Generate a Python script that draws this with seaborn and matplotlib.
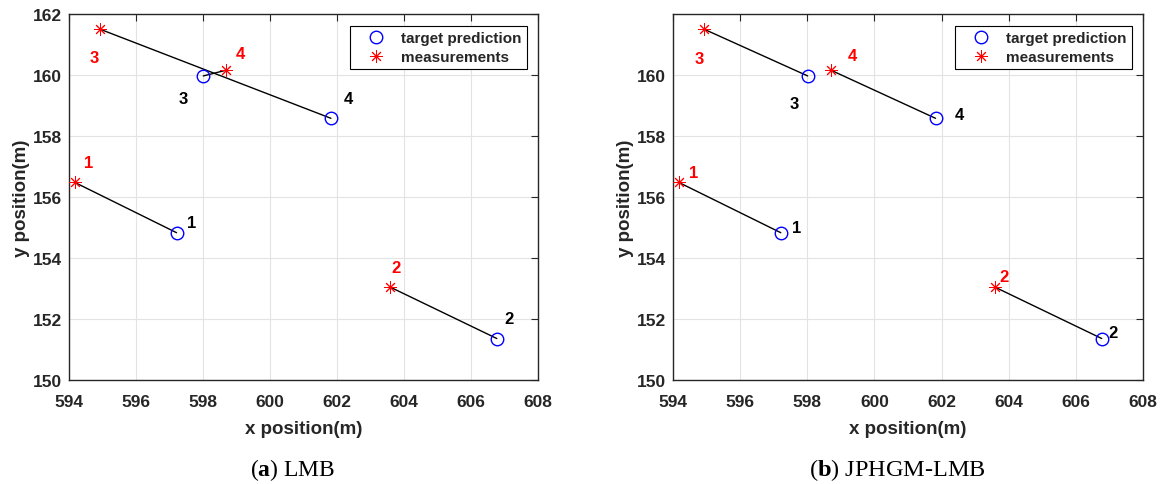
import matplotlib.pyplot as plt
import pandas as pd
import seaborn as sns

# target predictions (blue circles) and measurements (red stars), same in both panels
target_x = [597.21, 606.77, 598.01, 601.82]
target_y = [154.83, 151.36, 159.97, 158.58]
meas_x = [594.17, 603.58, 594.93, 598.70]
meas_y = [156.48, 153.05, 161.50, 160.16]
track_ids = ["1", "2", "3", "4"]

# which target each measurement got associated with
assoc_lmb = [0, 1, 3, 2]
assoc_jphgm = [0, 1, 2, 3]

# label positions (data coords) for each panel
lmb_meas_lbl = [(594.59, 157.12), (603.76, 153.70), (594.75, 160.57), (599.11, 160.71)]
lmb_tgt_lbl = [(597.67, 155.18), (607.13, 152.02), (597.40, 159.23), (602.35, 159.23)]
jp_meas_lbl = [(594.60, 156.79), (603.86, 153.39), (594.79, 160.54), (599.35, 160.63)]
jp_tgt_lbl = [(597.69, 155.00), (607.10, 151.56), (597.62, 159.07), (602.54, 158.69)]

x_ticks = [594, 596, 598, 600, 602, 604, 606, 608]
y_ticks_a = [150, 152, 154, 156, 158, 160, 162]
y_ticks_b = [150, 152, 154, 156, 158, 160]


def draw_panel(ax, assoc, meas_lbl, tgt_lbl, yticks):
    rows = []
    for m, t in enumerate(assoc):
        rows.append({"seg": m, "x": meas_x[m], "y": meas_y[m]})
        rows.append({"seg": m, "x": target_x[t], "y": target_y[t]})
    seg_df = pd.DataFrame(rows)
    sns.lineplot(data=seg_df, x="x", y="y", units="seg", estimator=None, sort=False,
                 color="black", linewidth=1.0, ax=ax, legend=False)

    sns.lineplot(x=target_x, y=target_y, estimator=None, sort=False, ax=ax,
                 linestyle="none", marker="o", markersize=9, markerfacecolor="none",
                 markeredgecolor="blue", markeredgewidth=1.0, color="blue",
                 label="target prediction", zorder=3)
    sns.lineplot(x=meas_x, y=meas_y, estimator=None, sort=False, ax=ax,
                 linestyle="none", marker=(8, 2, 0), markersize=9,
                 markeredgecolor="red", markeredgewidth=0.7, color="red",
                 label="measurements", zorder=3)

    for i, lab in enumerate(track_ids):
        ax.text(*meas_lbl[i], lab, color="red", fontsize=12, fontweight="bold",
                ha="center", va="center")
        ax.text(*tgt_lbl[i], lab, color="black", fontsize=12, fontweight="bold",
                ha="center", va="center")

    ax.set_xlim(594, 608)
    ax.set_ylim(150, 162)
    ax.set_xticks(x_ticks)
    ax.set_yticks(yticks)
    ax.grid(True, color="#e3e3e3", linewidth=0.8)
    ax.set_axisbelow(True)
    ax.tick_params(direction="in", length=5, width=0.8, top=True, right=True,
                   labelsize=12.5, colors="#262626")
    ax.tick_params(axis="x", pad=10)
    ax.tick_params(axis="y", pad=5)
    for lbl in ax.get_xticklabels() + ax.get_yticklabels():
        lbl.set_fontweight("bold")
    for sp in ax.spines.values():
        sp.set_color("#262626")
        sp.set_linewidth(1.0)
    ax.set_xlabel("x position(m)", fontsize=13.5, fontweight="bold", color="#262626", labelpad=8)
    ax.set_ylabel("y position(m)", fontsize=13.5, fontweight="bold", color="#262626", labelpad=2)

    leg = ax.legend(loc="upper right", bbox_to_anchor=(1 - 11 / 469, 1 - 12 / 366),
                    borderaxespad=0, fontsize=11, frameon=True, fancybox=False,
                    framealpha=1, edgecolor="black", borderpad=0.35, handlelength=2.7,
                    handletextpad=0.3, labelspacing=0.3)
    leg.get_frame().set_linewidth(0.8)
    for txt in leg.get_texts():
        txt.set_fontweight("bold")


def main():
    sns.set_theme(style="white")
    plt.rcParams["font.family"] = ["Liberation Sans", "DejaVu Sans"]
    plt.rcParams["mathtext.fontset"] = "custom"
    plt.rcParams["mathtext.rm"] = "Liberation Serif"
    plt.rcParams["mathtext.bf"] = "Liberation Serif:bold"

    fig = plt.figure(figsize=(11.61, 4.85), dpi=100)
    ax_a = fig.add_axes([69 / 1161, 104 / 485, 469 / 1161, 366 / 485])
    ax_b = fig.add_axes([673 / 1161, 104 / 485, 470 / 1161, 366 / 485])

    draw_panel(ax_a, assoc_lmb, lmb_meas_lbl, lmb_tgt_lbl, y_ticks_a)
    draw_panel(ax_b, assoc_jphgm, jp_meas_lbl, jp_tgt_lbl, y_ticks_b)

    fig.text(293 / 1161, 1 - 470 / 485, r"($\mathbf{a}$) LMB", family="Liberation Serif",
             fontsize=17, ha="center", va="center", color="black")
    fig.text(897 / 1161, 1 - 470 / 485, r"($\mathbf{b}$) JPHGM-LMB", family="Liberation Serif",
             fontsize=17.5, ha="center", va="center", color="black")

    fig.savefig("out.png", dpi=100)


if __name__ == "__main__":
    main()
